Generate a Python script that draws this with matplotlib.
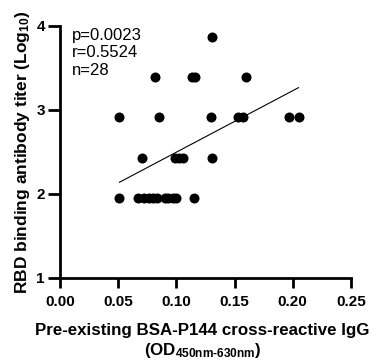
import numpy as np
import matplotlib
matplotlib.use("Agg")
import matplotlib.pyplot as plt

plt.rcParams['font.family'] = ['Liberation Sans', 'DejaVu Sans']
plt.rcParams['mathtext.fontset'] = 'custom'
plt.rcParams['mathtext.rm'] = 'Liberation Sans:bold'
plt.rcParams['mathtext.it'] = 'Liberation Sans:bold'
plt.rcParams['mathtext.bf'] = 'Liberation Sans:bold'

# OD values (x) and log10 titers (y)
od = [0.131,
      0.082, 0.113, 0.116, 0.160,
      0.051, 0.085, 0.130, 0.153, 0.157, 0.197, 0.205,
      0.070, 0.099, 0.102, 0.106, 0.131,
      0.051, 0.067, 0.072, 0.076, 0.080, 0.083, 0.090, 0.093, 0.097, 0.100, 0.115]
titer = [3.863,
         3.386, 3.386, 3.386, 3.386,
         2.908, 2.908, 2.908, 2.908, 2.908, 2.908, 2.908,
         2.431, 2.431, 2.431, 2.431, 2.431,
         1.954, 1.954, 1.954, 1.954, 1.954, 1.954, 1.954, 1.954, 1.954, 1.954, 1.954]
stats = ["p=0.0023", "r=0.5524", "n=28"]

x = np.array(od)
y = np.array(titer)
slope, icpt = np.polyfit(x, y, 1)

fig = plt.figure(figsize=(3.83, 3.6), dpi=100)
ax = fig.add_axes([0.157, 0.228, 0.759, 0.701])

ax.scatter(x, y, s=52, color='black', zorder=3, linewidths=0)
xl = np.array([x.min(), x.max()])
ax.plot(xl, slope*xl + icpt, color='black', lw=0.8)

ax.set_xlim(0, 0.25)
ax.set_ylim(1, 4)
ax.set_xticks([0, 0.05, 0.10, 0.15, 0.20, 0.25])
ax.set_xticklabels(["0.00", "0.05", "0.10", "0.15", "0.20", "0.25"])
ax.set_yticks([1, 2, 3, 4])
for s in ['top', 'right']:
    ax.spines[s].set_visible(False)
for s in ['left', 'bottom']:
    ax.spines[s].set_linewidth(2)
ax.tick_params(axis='x', width=2, length=7, labelsize=11, pad=5)
ax.tick_params(axis='y', width=2, length=9, labelsize=11, pad=2)
for lab in ax.get_xticklabels() + ax.get_yticklabels():
    lab.set_fontweight('bold')

ax.set_xlabel("Pre-existing BSA-P144 cross-reactive IgG\n(OD$_{450nm\\text{-}630nm}$)",
              fontsize=12.2, fontweight='bold', linespacing=1.2)
ax.xaxis.set_label_coords(0.49, -0.18, transform=ax.transAxes)
ax.xaxis.label.set_va('top')
ax.set_ylabel("RBD binding antibody titer (Log$_{10}$)",
              fontsize=12.5, fontweight='bold', labelpad=3)

ax.text(0.04, 0.99, "\n".join(stats), transform=ax.transAxes, fontsize=12,
        va='top', ha='left', linespacing=1.2)

fig.savefig("out.png", dpi=100)
